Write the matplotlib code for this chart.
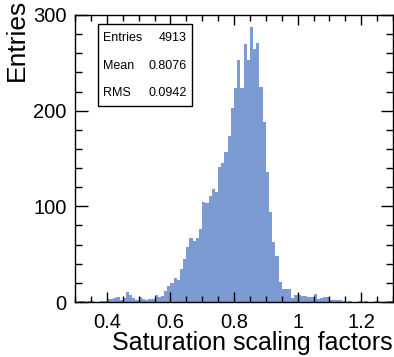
import matplotlib.pyplot as plt
import numpy as np
from matplotlib.ticker import MultipleLocator

plt.rcParams['font.family'] = ['Liberation Sans', 'DejaVu Sans']

# histogram: 100 bins from 0.3 to 1.3
x_min, x_max, n_bins = 0.3, 1.3, 100
counts = [
    0, 1, 1, 0, 1, 1, 0, 0, 1, 1,
    3, 3, 4, 5, 2, 4, 10, 7, 4, 2,
    5, 3, 2, 3, 3, 7, 5, 6, 12, 17,
    20, 25, 23, 35, 45, 57, 67, 64, 67, 76,
    105, 104, 111, 118, 115, 141, 145, 157, 173, 203,
    224, 253, 224, 270, 253, 287, 264, 271, 225, 188,
    136, 94, 63, 48, 21, 14, 14, 14, 4, 7,
    7, 6, 6, 5, 5, 8, 3, 4, 5, 5,
    2, 2, 2, 2, 1, 0, 1, 0, 0, 1,
    0, 1, 0, 0, 1, 1, 0, 0, 1, 1,
]
stat_names = ['Entries', 'Mean', 'RMS']
stat_values = ['4913', '0.8076', '0.0942']

edges = np.linspace(x_min, x_max, n_bins + 1)

fig = plt.figure(figsize=(3.94, 3.57), dpi=100)
ax = fig.add_axes([75 / 394, 1 - 302 / 357, 318 / 394, 287 / 357])

ax.stairs(counts, edges, fill=True, color='#7b9bd2', linewidth=0)

ax.set_xlim(x_min, x_max)
ax.set_ylim(0, 300)
ax.xaxis.set_major_locator(MultipleLocator(0.2))
ax.xaxis.set_minor_locator(MultipleLocator(0.05))
ax.yaxis.set_major_locator(MultipleLocator(100))
ax.yaxis.set_minor_locator(MultipleLocator(20))
ax.set_xticks([0.4, 0.6, 0.8, 1.0, 1.2], ['0.4', '0.6', '0.8', '1', '1.2'])

ax.tick_params(which='both', direction='in', top=True, right=True, labelsize=14.5)
ax.tick_params(axis='x', which='major', length=7, width=1, pad=8)
ax.tick_params(axis='x', which='minor', length=4, width=1)
ax.tick_params(axis='y', which='major', length=9, width=1, pad=6)
ax.tick_params(axis='y', which='minor', length=5, width=1)
for s in ax.spines.values():
    s.set_linewidth(1)
    s.set_zorder(5)

ax.set_xlabel('Saturation scaling factors', fontsize=18, loc='right')
ax.xaxis.set_label_coords(1.0, -0.1)
ax.set_ylabel('Entries', fontsize=19, loc='top')
ax.yaxis.set_label_coords(-0.145, 1.055)

# stats box
box = plt.Rectangle((98 / 394, 1 - 106 / 357), 94 / 394, 82 / 357,
                    transform=fig.transFigure, facecolor='white',
                    edgecolor='black', linewidth=1, zorder=6)
fig.add_artist(box)
row_y = [38, 66, 93]
for name, val, yy in zip(stat_names, stat_values, row_y):
    fig.text(103 / 394, 1 - yy / 357, name, fontsize=9, va='center', ha='left', zorder=7)
    fig.text(187 / 394, 1 - yy / 357, val, fontsize=9, va='center', ha='right', zorder=7)

fig.savefig('out.png', dpi=100)
